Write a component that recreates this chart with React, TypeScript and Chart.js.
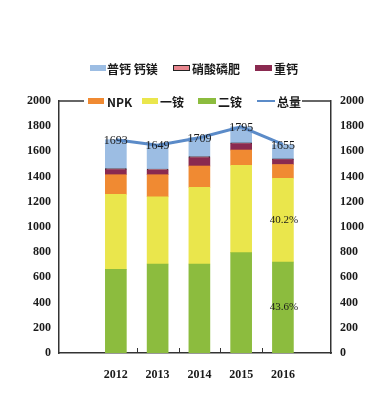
import React, { useEffect, useRef } from 'react';
import { Chart, registerables } from 'chart.js';
Chart.register(...registerables);

const categories = ['2012', '2013', '2014', '2015', '2016'];
const erAn = [664, 706, 706, 796, 722];
const yiAn = [595, 534, 609, 694, 665];
const npk = [156, 175, 169, 121, 109];
const zhongGai = [40, 37, 66, 50, 39];
const xiaoSuan = [8, 8, 8, 7, 6];
const puGai = [230, 189, 151, 127, 112];
const total = [1693, 1649, 1709, 1795, 1655];
const erAnShare = ['', '', '', '', '43.6%'];
const yiAnShare = ['', '', '', '', '40.2%'];

const C = {
  er: '#8cbc3e',
  yi: '#eae64c',
  npk: '#f08a32',
  zhong: '#8a2a50',
  xiao: '#e8868e',
  pu: '#9cbde3',
  line: '#5b8bc8',
  axis: '#333333',
};

const TICK_FONT = { family: '"Liberation Serif", serif', size: 12, weight: 'bold' as const };

const overlayPlugin = {
  id: 'overlay',
  afterDatasetsDraw(chart: any) {
    const { ctx, chartArea } = chart;
    const x = chart.scales.x;
    ctx.save();
    // top frame
    ctx.strokeStyle = C.axis;
    ctx.lineWidth = 1.5;
    ctx.beginPath();
    ctx.moveTo(chartArea.left, chartArea.top);
    ctx.lineTo(chartArea.right, chartArea.top);
    ctx.stroke();
    // category boundary tick marks
    ctx.lineWidth = 1;
    for (let i = 0; i < categories.length - 1; i++) {
      const px = Math.round(x.getPixelForValue(i + 0.5)) + 0.5;
      ctx.beginPath();
      ctx.moveTo(px, chartArea.bottom);
      ctx.lineTo(px, chartArea.bottom - 5);
      ctx.stroke();
    }
    // total labels
    ctx.fillStyle = '#1a1a1a';
    ctx.font = '12px "Liberation Serif", serif';
    ctx.textAlign = 'center';
    ctx.textBaseline = 'middle';
    const lineIdx = chart.data.datasets.findIndex((d: any) => d.label === '总量');
    const lm = chart.getDatasetMeta(lineIdx);
    lm.data.forEach((pt: any, i: number) => {
      ctx.fillText(String(total[i]), pt.x, pt.y + 1);
    });
    // share labels
    const shares: [string, string[]][] = [['二铵', erAnShare], ['一铵', yiAnShare]];
    ctx.font = '11px "Liberation Serif", serif';
    shares.forEach(([label, arr]) => {
      const di = chart.data.datasets.findIndex((d: any) => d.label === label);
      const m = chart.getDatasetMeta(di);
      m.data.forEach((bar: any, i: number) => {
        if (!arr[i]) return;
        ctx.fillText(arr[i], bar.x + 1, (bar.y + bar.base) / 2);
      });
    });
    // legend
    const row2Y = chartArea.top;
    const row1Y = row2Y - 33;
    ctx.fillStyle = '#ffffff';
    ctx.fillRect(84, row2Y - 8, 218, 16);
    const items: { label: string; bx: number; bw: number; tx: number; y: number; line?: boolean }[] = [
      { label: '普钙 钙镁', bx: 90, bw: 16, tx: 107, y: row1Y },
      { label: '硝酸磷肥', bx: 173, bw: 17, tx: 192, y: row1Y },
      { label: '重钙', bx: 255, bw: 17, tx: 274, y: row1Y },
      { label: 'NPK', bx: 88, bw: 16, tx: 107, y: row2Y },
      { label: '一铵', bx: 142, bw: 16, tx: 160, y: row2Y },
      { label: '二铵', bx: 198, bw: 18, tx: 218, y: row2Y },
      { label: '总量', bx: 257, bw: 18, tx: 277, y: row2Y, line: true },
    ];
    ctx.textAlign = 'left';
    ctx.font = 'bold 12px "Noto Sans CJK SC", sans-serif';
    items.forEach((it) => {
      const ds = chart.data.datasets.find((d: any) => d.label === it.label);
      const color = it.line ? ds.borderColor : ds.backgroundColor;
      if (it.line) {
        ctx.strokeStyle = color;
        ctx.lineWidth = 2;
        ctx.beginPath();
        ctx.moveTo(it.bx, it.y);
        ctx.lineTo(it.bx + it.bw, it.y);
        ctx.stroke();
      } else {
        ctx.fillStyle = color;
        ctx.fillRect(it.bx, it.y - 3, it.bw, 6);
        if (it.label === '硝酸磷肥') {
          ctx.strokeStyle = '#222';
          ctx.lineWidth = 1;
          ctx.strokeRect(it.bx + 0.5, it.y - 2.5, it.bw - 1, 5);
        }
      }
      ctx.fillStyle = '#1a1a1a';
      ctx.fillText(it.label, it.tx, it.y + 1);
    });
    ctx.restore();
  },
};

export default function App() {
  const ref = useRef<HTMLCanvasElement>(null);
  useEffect(() => {
    if (!ref.current) return;
    const toXY = (arr: number[]) => arr.map((v, i) => ({ x: i, y: v }));
    const bar = (label: string, data: number[], color: string, extra: any = {}) => ({
      type: 'bar' as const,
      label,
      data: toXY(data),
      backgroundColor: color,
      borderWidth: 0,
      barThickness: 21,
      yAxisID: 'y',
      order: 1,
      ...extra,
    });
    const chart = new Chart(ref.current, {
      type: 'bar',
      data: {
        datasets: [
          bar('二铵', erAn, C.er),
          bar('一铵', yiAn, C.yi),
          bar('NPK', npk, C.npk),
          bar('重钙', zhongGai, C.zhong),
          bar('硝酸磷肥', xiaoSuan, C.xiao, { borderColor: '#1a1a1a', borderWidth: 1, borderSkipped: false }),
          bar('普钙 钙镁', puGai, C.pu),
          {
            type: 'line' as const,
            label: '总量',
            data: toXY(total),
            borderColor: C.line,
            backgroundColor: C.line,
            borderWidth: 3,
            pointRadius: 0,
            tension: 0,
            yAxisID: 'y1',
            order: 0,
          } as any,
        ],
      },
      options: {
        animation: false,
        responsive: true,
        maintainAspectRatio: false,
        layout: { padding: { top: 101, left: 0, right: 0, bottom: 0 } },
        plugins: { legend: { display: false }, tooltip: { enabled: false } },
        scales: {
          x: {
            type: 'linear',
            stacked: true,
            min: -0.71,
            max: 4.5,
            afterBuildTicks: (s: any) => {
              s.ticks = categories.map((_, i) => ({ value: i }));
            },
            afterFit: (s: any) => {
              s.height = 47;
            },
            ticks: {
              callback: (v: any) => categories[v] ?? '',
              color: '#1a1a1a',
              font: TICK_FONT,
              padding: 15,
              maxRotation: 0,
              autoSkip: false,
            },
            grid: { display: false, drawTicks: false },
            border: { display: true, color: C.axis, width: 1.5 },
          },
          y: {
            position: 'left',
            stacked: true,
            min: 0,
            max: 2000,
            ticks: { stepSize: 200, color: '#1a1a1a', font: TICK_FONT, padding: 8, callback: (v: any) => String(v) },
            afterFit: (s: any) => {
              s.width = 59;
            },
            grid: { display: false, drawTicks: false },
            border: { display: true, color: C.axis, width: 1.5 },
          },
          y1: {
            position: 'right',
            min: 0,
            max: 2000,
            ticks: { stepSize: 200, color: '#1a1a1a', font: TICK_FONT, padding: 9, callback: (v: any) => String(v) },
            afterFit: (s: any) => {
              s.width = 42;
            },
            grid: { display: false, drawTicks: false },
            border: { display: true, color: C.axis, width: 1.5 },
          },
        },
      } as any,
      plugins: [overlayPlugin],
    });
    return () => chart.destroy();
  }, []);
  return (
    <div style={{ position: 'fixed', left: 0, top: 0, width: 373, height: 400, background: '#fff' }}>
      <canvas ref={ref} />
    </div>
  );
}
